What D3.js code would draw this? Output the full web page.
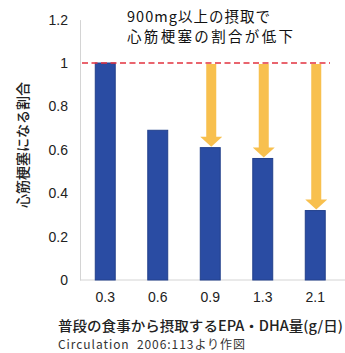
<!DOCTYPE html>
<html>
<head>
<meta charset="utf-8">
<script src="https://cdn.jsdelivr.net/npm/d3@7"></script>
<style>
  body { margin: 0; background: #fff; }
  svg { display: block; font-family: "Noto Sans CJK JP", "Noto Sans", sans-serif; }
</style>
</head>
<body>
<svg id="chart" width="345" height="353"></svg>
<script>
// Intake categories (g/day of EPA + DHA) and relative risk of myocardial infarction
const categories = ["0.3", "0.6", "0.9", "1.3", "2.1"];
const riskRatio = [1.0, 0.69, 0.61, 0.56, 0.32];
const yTicks = [0, 0.2, 0.4, 0.6, 0.8, 1, 1.2];
// Categories that get a downward arrow from the reference level
const arrowCategories = ["0.9", "1.3", "2.1"];
const referenceLevel = 1;

const titleLines = ["900mg以上の摂取で", "心筋梗塞の割合が低下"];
const yTitle = "心筋梗塞になる割合";
const xTitle = "普段の食事から摂取するEPA・DHA量(g/日)";
const sourceNote = "Circulation  2006:113より作図";

const svg = d3.select("#chart");

const x = d3.scaleBand()
  .domain(categories)
  .range([79, 341.5])
  .paddingInner(0.62)
  .paddingOuter(0.31);

const y = d3.scaleLinear()
  .domain([0, 1.2])
  .range([280, 19.6]);

// Axes
const axisColor = "#d4d4d4";
const yAxis = svg.append("g")
  .attr("transform", "translate(80,0)")
  .call(d3.axisLeft(y).tickValues(yTicks).tickSize(0).tickPadding(12)
    .tickFormat(d => String(d)));
yAxis.select(".domain").attr("stroke", axisColor);
yAxis.selectAll("text")
  .attr("font-size", 14)
  .attr("fill", "#222")
  .attr("font-family", "Liberation Sans, Arial, sans-serif");

const xAxis = svg.append("g")
  .attr("transform", "translate(0,280)")
  .call(d3.axisBottom(x).tickSize(0).tickPadding(12));
xAxis.select(".domain").attr("stroke", axisColor).attr("d", "M80,0H345");
xAxis.selectAll("text")
  .attr("font-size", 14)
  .attr("fill", "#222")
  .attr("font-family", "Liberation Sans, Arial, sans-serif");

// Bars
svg.append("g")
  .selectAll("rect")
  .data(categories)
  .join("rect")
  .attr("x", d => x(d))
  .attr("width", x.bandwidth())
  .attr("y", (d, i) => y(riskRatio[i]))
  .attr("height", (d, i) => y(0) - y(riskRatio[i]))
  .attr("fill", "#2a4ca3")
  .attr("stroke", "#22408c")
  .attr("stroke-width", 1);

// Reference line at a ratio of 1
svg.append("line")
  .attr("x1", 82).attr("x2", 330)
  .attr("y1", y(referenceLevel)).attr("y2", y(referenceLevel))
  .attr("stroke", "#e2323f")
  .attr("stroke-width", 1.6)
  .attr("stroke-dasharray", "6,3.5");

// Downward arrows from the reference line to each lowered bar
const shaftHalf = 5, headHalf = 11, headLen = 10;
svg.append("g")
  .selectAll("path")
  .data(arrowCategories)
  .join("path")
  .attr("fill", "#f8c04e")
  .attr("d", d => {
    const cx = x(d) + x.bandwidth() / 2 + 1;
    const top = y(referenceLevel) + 1;
    const tip = y(riskRatio[categories.indexOf(d)]) - 1;
    const neck = tip - headLen;
    return `M${cx - shaftHalf},${top}H${cx + shaftHalf}V${neck}H${cx + headHalf}` +
           `L${cx},${tip}L${cx - headHalf},${neck}H${cx - shaftHalf}Z`;
  });

// Title, one text element per line
svg.append("g")
  .selectAll("text")
  .data(titleLines)
  .join("text")
  .attr("x", 127)
  .attr("y", (d, i) => 21.5 + i * 20)
  .attr("font-size", 14.5)
  .attr("fill", "#111")
  .attr("textLength", (d, i) => i === 0 ? 143 : 166)
  .attr("lengthAdjust", "spacing")
  .text(d => d);

// Y-axis title (vertical)
svg.append("text")
  .attr("transform", "translate(22,145) rotate(-90)")
  .attr("text-anchor", "middle")
  .attr("dominant-baseline", "central")
  .attr("font-size", 14)
  .attr("font-weight", 500)
  .attr("fill", "#222")
  .text(yTitle);

// X-axis title and source note
svg.append("text")
  .attr("x", 58).attr("y", 330.5)
  .attr("font-size", 14)
  .attr("font-weight", 500)
  .attr("fill", "#222")
  .attr("textLength", 285)
  .attr("lengthAdjust", "spacingAndGlyphs")
  .text(xTitle);

svg.append("text")
  .attr("x", 58).attr("y", 348.5)
  .attr("font-size", 12)
  .attr("fill", "#333")
  .attr("textLength", 187)
  .attr("lengthAdjust", "spacing")
  .style("white-space", "pre")
  .text(sourceNote);
</script>
</body>
</html>
